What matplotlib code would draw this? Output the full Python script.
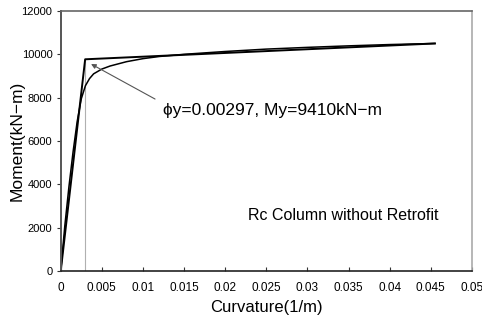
import matplotlib
matplotlib.use("Agg")
import matplotlib.pyplot as plt

plt.rcParams['font.family'] = ['Liberation Sans', 'DejaVu Sans']

# moment-curvature curve (analysis)
curv = [0, 0.0005, 0.001, 0.0015, 0.002, 0.0025, 0.003, 0.0035, 0.004, 0.005,
        0.006, 0.008, 0.01, 0.012, 0.015, 0.02, 0.025, 0.03, 0.035, 0.04, 0.0455]
moment = [0, 2100, 3900, 5500, 6900, 7950, 8550, 8880, 9100, 9320,
          9460, 9660, 9800, 9900, 10000, 10130, 10240, 10320, 10390, 10450, 10500]

# bilinear idealisation
bi_x = [0, 0.00297, 0.0455]
bi_y = [0, 9770, 10500]

xticks = [0, 0.005, 0.01, 0.015, 0.02, 0.025, 0.03, 0.035, 0.04, 0.045, 0.05]
xtick_labels = ["0", "0.005", "0.01", "0.015", "0.02", "0.025", "0.03", "0.035", "0.04", "0.045", "0.05"]
yticks = [0, 2000, 4000, 6000, 8000, 10000, 12000]

fig = plt.figure(figsize=(4.82, 3.22), dpi=100)
ax = fig.add_axes([0.126, 0.158, 0.853, 0.808])

ax.plot([bi_x[1], bi_x[1]], [0, bi_y[1]], color="#b0b0b0", lw=0.8)
ax.plot(curv, moment, color="black", lw=1.1)
ax.plot(bi_x, bi_y, color="black", lw=1.4)

ax.annotate("", xy=(0.00369, 9553), xytext=(0.01147, 7937),
            arrowprops=dict(arrowstyle="-|>", color="#555555", lw=0.8,
                            mutation_scale=7, shrinkA=0, shrinkB=0))
ax.text(0.01245, 7430, "ϕy=0.00297, My=9410kN−m", fontsize=12.5, va="center", ha="left")
ax.text(0.02279, 2584, "Rc Column without Retrofit", fontsize=11.5, va="center", ha="left")

ax.set_xlim(0, 0.05)
ax.set_ylim(0, 12000)
ax.set_xticks(xticks)
ax.set_xticklabels(xtick_labels)
ax.set_yticks(yticks)
ax.tick_params(axis="x", direction="in", length=3, labelsize=8.5, pad=8, color="#333333")
ax.tick_params(axis="y", direction="out", length=3, labelsize=8, pad=3, color="#333333")

ax.spines["left"].set_color("#555555")
ax.spines["left"].set_linewidth(1.4)
ax.spines["top"].set_color("#666666")
ax.spines["top"].set_linewidth(1.2)
ax.spines["bottom"].set_color("#222222")
ax.spines["bottom"].set_linewidth(1.2)
ax.spines["right"].set_color("#aaaaaa")
ax.spines["right"].set_linewidth(1.2)

ax.set_xlabel("Curvature(1/m)", fontsize=12, labelpad=4)
ax.set_ylabel("Moment(kN−m)", fontsize=12.5)
ax.yaxis.set_label_coords(-0.087, 0.5)

fig.savefig("out.png", dpi=100)
